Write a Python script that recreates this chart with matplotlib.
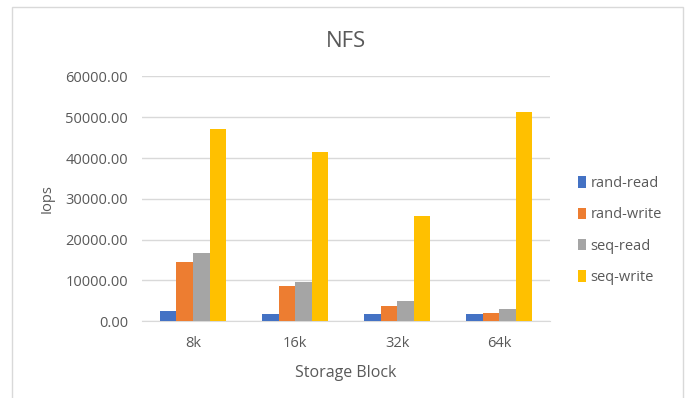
import numpy as np
import matplotlib.pyplot as plt
from matplotlib.patches import Rectangle

blocks = ['8k', '16k', '32k', '64k']
rand_read = [2400, 1650, 1650, 1650]
rand_write = [14400, 8600, 3700, 2000]
seq_read = [16800, 9650, 4850, 3050]
seq_write = [47200, 41400, 25850, 51350]

series = [('rand-read', rand_read, '#4472C4'),
          ('rand-write', rand_write, '#ED7D31'),
          ('seq-read', seq_read, '#A5A5A5'),
          ('seq-write', seq_write, '#FFC000')]

plt.rcParams['font.family'] = ['Open Sans', 'DejaVu Sans']
text_color = '#595959'

fig = plt.figure(figsize=(6.86, 3.98), dpi=100)
ax = fig.add_axes([0.207, 0.193, 0.595, 0.615])

# chart frame
fig.patches.append(Rectangle((0.018, -0.05), 0.977, 1.032, transform=fig.transFigure,
                             fill=False, edgecolor='#D9D9D9', linewidth=1.0))

x = np.arange(len(blocks))
width = 0.162
for i, (name, vals, color) in enumerate(series):
    ax.bar(x + (i - 1.5) * width, vals, width, color=color, label=name, zorder=3)

ax.set_ylim(0, 60000)
ax.set_yticks(np.arange(0, 60001, 10000))
ax.set_yticklabels(['%.2f' % v for v in np.arange(0, 60001, 10000)])
ax.set_xticks(x)
ax.set_xticklabels(blocks)
ax.set_xlim(-0.5, len(blocks) - 0.5)
ax.grid(axis='y', color='#D9D9D9', linewidth=1.0, zorder=0)
for s in ax.spines.values():
    s.set_visible(False)
ax.spines['bottom'].set_visible(True)
ax.spines['bottom'].set_color('#D9D9D9')
ax.tick_params(length=0, colors=text_color, labelsize=10.5)
ax.tick_params(axis='x', pad=11)
ax.tick_params(axis='y', pad=10)

ax.set_title('NFS', fontsize=16, color=text_color, pad=21)
ax.set_xlabel('Storage Block', fontsize=11.5, color=text_color, labelpad=10)
ax.set_ylabel('Iops', fontsize=10.5, color=text_color, labelpad=8)

leg = ax.legend(loc='center left', bbox_to_anchor=(1.035, 0.37), frameon=False,
                fontsize=10.5, handlelength=0.6, handleheight=0.8, handletextpad=0.3,
                labelspacing=1.12, labelcolor=text_color)

fig.savefig('out.png', dpi=100, facecolor='white')
